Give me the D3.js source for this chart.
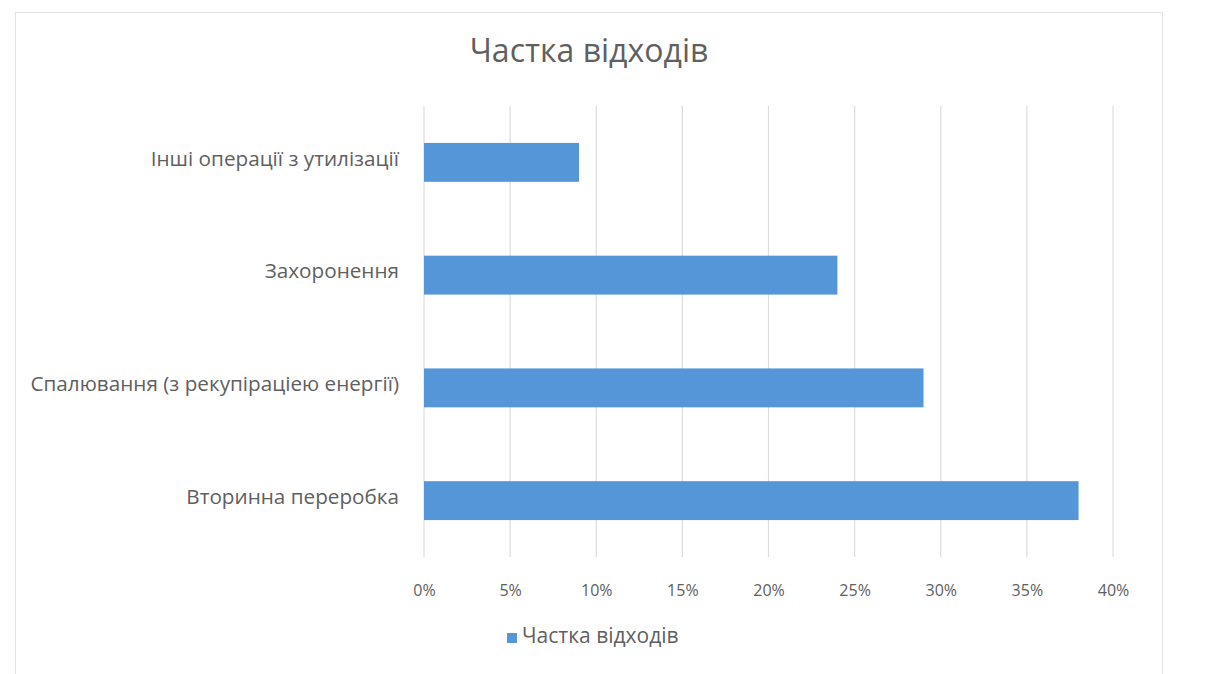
<!DOCTYPE html>
<html><head><meta charset="utf-8">
<script src="https://cdn.jsdelivr.net/npm/d3@7"></script>
<style>body{margin:0;background:#fff;} svg{display:block;}</style>
</head><body>
<svg id="c" width="1211" height="674"></svg>
<script>
const categories = ["Інші операції з утилізації", "Захоронення", "Спалювання (з рекупіраціею енергії)", "Вторинна переробка"];
const values = [0.09, 0.24, 0.29, 0.38];
const seriesName = "Частка відходів";
const chartTitle = "Частка відходів";
const xTicks = [0, 0.05, 0.10, 0.15, 0.20, 0.25, 0.30, 0.35, 0.40];

const svg = d3.select("#c");
const font = "'Open Sans', sans-serif";
const txt = "#606060";

// chart frame
svg.append("rect").attr("x", 15.5).attr("y", 12.5).attr("width", 1147).attr("height", 670)
  .attr("fill", "#fff").attr("stroke", "#e2e2e2");

const m = {left: 424, right: 1113, top: 106, bottom: 557};
const x = d3.scaleLinear().domain([0, 0.40]).range([m.left, m.right]);
const y = d3.scaleBand().domain(categories).range([m.top, m.bottom]).paddingInner(0.655).paddingOuter(0.3275);

// gridlines
svg.append("g").selectAll("line").data(xTicks).join("line")
  .attr("x1", d => x(d)).attr("x2", d => x(d))
  .attr("y1", m.top).attr("y2", m.bottom)
  .attr("stroke", "#dcdcdc").attr("stroke-width", 1.2);

// bars
svg.append("g").selectAll("rect").data(categories).join("rect")
  .attr("x", x(0)).attr("y", d => y(d))
  .attr("width", (d, i) => x(values[i]) - x(0))
  .attr("height", y.bandwidth())
  .attr("fill", "#5596d8");

// x axis
const xa = svg.append("g").attr("transform", `translate(0,${m.bottom})`)
  .call(d3.axisBottom(x).tickValues(xTicks).tickFormat(d3.format(".0%")).tickSize(0).tickPadding(0));
xa.select(".domain").remove();
xa.selectAll("text").attr("font-family", font).attr("font-size", 16).attr("fill", txt)
  .attr("dy", null).attr("y", 39);

// y axis
const ya = svg.append("g").attr("transform", `translate(${m.left - 22},0)`)
  .call(d3.axisLeft(y).tickSize(0));
ya.select(".domain").remove();
ya.selectAll("text").attr("font-family", font).attr("font-size", 20.7).attr("fill", txt).attr("dy", "0.16em");

// title
svg.append("text").attr("x", 589).attr("y", 62).attr("text-anchor", "middle")
  .attr("font-family", font).attr("font-size", 32).attr("fill", txt).text(chartTitle);

// legend
const lg = svg.append("g").attr("transform", "translate(507,643)");
lg.append("rect").attr("x", 0).attr("y", -10).attr("width", 10).attr("height", 10).attr("fill", "#5596d8");
lg.append("text").attr("x", 15).attr("y", 0)
  .attr("font-family", font).attr("font-size", 21).attr("fill", txt).text(seriesName);
</script>
</body></html>
